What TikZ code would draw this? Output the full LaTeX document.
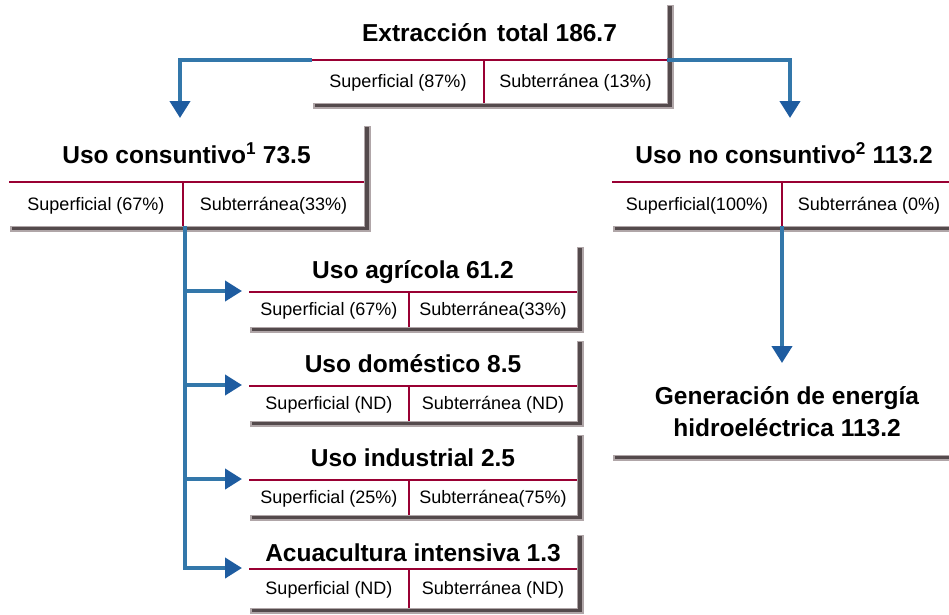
\documentclass[tikz,border=0pt]{standalone}
\usepackage{fontspec}
\setmainfont{Liberation Sans}
\usetikzlibrary{arrows.meta,fit}
\definecolor{redl}{RGB}{153,0,51}
\definecolor{bluel}{RGB}{51,119,170}
\definecolor{bluedk}{RGB}{30,92,160}
\definecolor{shdark}{RGB}{84,74,76}
\definecolor{shlight}{RGB}{176,166,168}
\tikzset{
  redline/.style={draw=redl,line width=2pt},
  conn/.style={draw=bluel,line width=4pt,-{Triangle[width=20pt,length=17pt,color=bluedk]}},
  ttl/.style={inner sep=0pt,font=\fontsize{24.5}{28}\selectfont\bfseries,text height=17.5pt,text depth=0pt},
  sub/.style={inner sep=0pt,font=\fontsize{18}{20}\selectfont,text height=12.9pt,text depth=0pt},
  boxbg/.style={inner sep=0pt,fill=white}
}
% name, L, T, R, M (red line), B, D (divider)
\newcommand\mkbox[7]{%
  \fill[shlight] (#4,#3-1) rectangle (#4+7,#6+6);
  \fill[shlight] (#2+1,#6) rectangle (#4+7,#6+6);
  \fill[shdark] (#4+1,#3) rectangle (#4+5,#6+4);
  \fill[shdark] (#2+3,#6+1) rectangle (#4+5,#6+4);
  \coordinate (#1-nw) at (#2,#3);
  \coordinate (#1-se) at (#4,#6);
  \node[boxbg,fit=(#1-nw)(#1-se)] (#1) {};
  \draw[redline] (#2,#5) coordinate (#1-l) -- (#4,#5) coordinate (#1-r);
  \draw[redline] (#7,#5) -- (#7,#6) coordinate (#1-d);
  \coordinate (#1-t) at ({(#2+#4)/2},{(#3+#5)/2});
  \coordinate (#1-a) at ({(#2+#7)/2},{(#5+#6)/2});
  \coordinate (#1-b) at ({(#7+#4)/2},{(#5+#6)/2});
}
\begin{document}
\begin{tikzpicture}[x=1pt,y=-1pt]
\clip (0,0) rectangle (949,614);
\fill[white] (0,0) rectangle (949,614);

% boxes
\mkbox{ext}{312}{6}{667}{60}{103}{484}
\node[ttl] (ext-title) at (ext-t) {Extracción\hspace{0.4em}total 186.7};
\node[sub] (ext-sup) at (ext-a) {Superficial (87\%)};
\node[sub] (ext-sub) at (ext-b) {Subterránea (13\%)};

\mkbox{cons}{9}{127}{364}{182}{226}{183}
\node[ttl] (cons-title) at (cons-t) {Uso consuntivo\textsuperscript{1} 73.5};
\node[sub] (cons-sup) at (cons-a) {Superficial (67\%)};
\node[sub] (cons-sub) at (cons-b) {Subterránea(33\%)};

\mkbox{nocons}{612}{127}{956}{182}{226}{782}
\node[ttl] (nocons-title) at (nocons-t) {Uso no consuntivo\textsuperscript{2} 113.2};
\node[sub] (nocons-sup) at (nocons-a) {Superficial(100\%)};
\node[sub] (nocons-sub) at (nocons-b) {Subterránea (0\%)};

\mkbox{agr}{249}{248}{577}{292}{327}{409}
\node[ttl] (agr-title) at (agr-t) {Uso agrícola 61.2};
\node[sub] (agr-sup) at (agr-a) {Superficial (67\%)};
\node[sub] (agr-sub) at (agr-b) {Subterránea(33\%)};

\mkbox{dom}{249}{342}{577}{386}{421}{409}
\node[ttl] (dom-title) at (dom-t) {Uso doméstico 8.5};
\node[sub] (dom-sup) at (dom-a) {Superficial (ND)};
\node[sub] (dom-sub) at (dom-b) {Subterránea (ND)};

\mkbox{ind}{249}{436}{577}{480}{515}{409}
\node[ttl] (ind-title) at (ind-t) {Uso industrial 2.5};
\node[sub] (ind-sup) at (ind-a) {Superficial (25\%)};
\node[sub] (ind-sub) at (ind-b) {Subterránea(75\%)};

\mkbox{acu}{249}{536}{577}{569}{608}{409}
\node[ttl] (acu-title) at (acu-t) {Acuacultura intensiva 1.3};
\node[sub] (acu-sup) at (acu-a) {Superficial (ND)};
\node[sub] (acu-sub) at (acu-b) {Subterránea (ND)};

% generation box (extends past right edge)
\fill[shlight] (613,455) rectangle (960,461);
\fill[shdark] (615,456) rectangle (960,459);
\coordinate (gen-nw) at (612,370);
\coordinate (gen-se) at (956,455);
\node[boxbg,fit=(gen-nw)(gen-se)] (gen) {};
\node[inner sep=0pt,font=\fontsize{24.5}{32}\selectfont\bfseries,align=center] (gen-text) at (787,412)
  {Generación de energía\\hidroeléctrica 113.2};

% connector targets
\coordinate (cons-in) at (180,118);
\coordinate (nocons-in) at (790,118);
\coordinate (gen-in) at (782,363);
\coordinate (trunk) at (185,226);
\coordinate (agr-in) at (242,291);
\coordinate (dom-in) at (242,385);
\coordinate (ind-in) at (242,479);
\coordinate (acu-in) at (242,568);

% connectors
\draw[conn] (ext-l) -| (cons-in);
\draw[conn] (ext-r) -| (nocons-in);
\draw[conn] (trunk) |- (acu-in);
\draw[conn] (trunk |- agr-in) -- (agr-in);
\draw[conn] (trunk |- dom-in) -- (dom-in);
\draw[conn] (trunk |- ind-in) -- (ind-in);
\draw[conn] (nocons-d) -- (gen-in);
\end{tikzpicture}
\end{document}
